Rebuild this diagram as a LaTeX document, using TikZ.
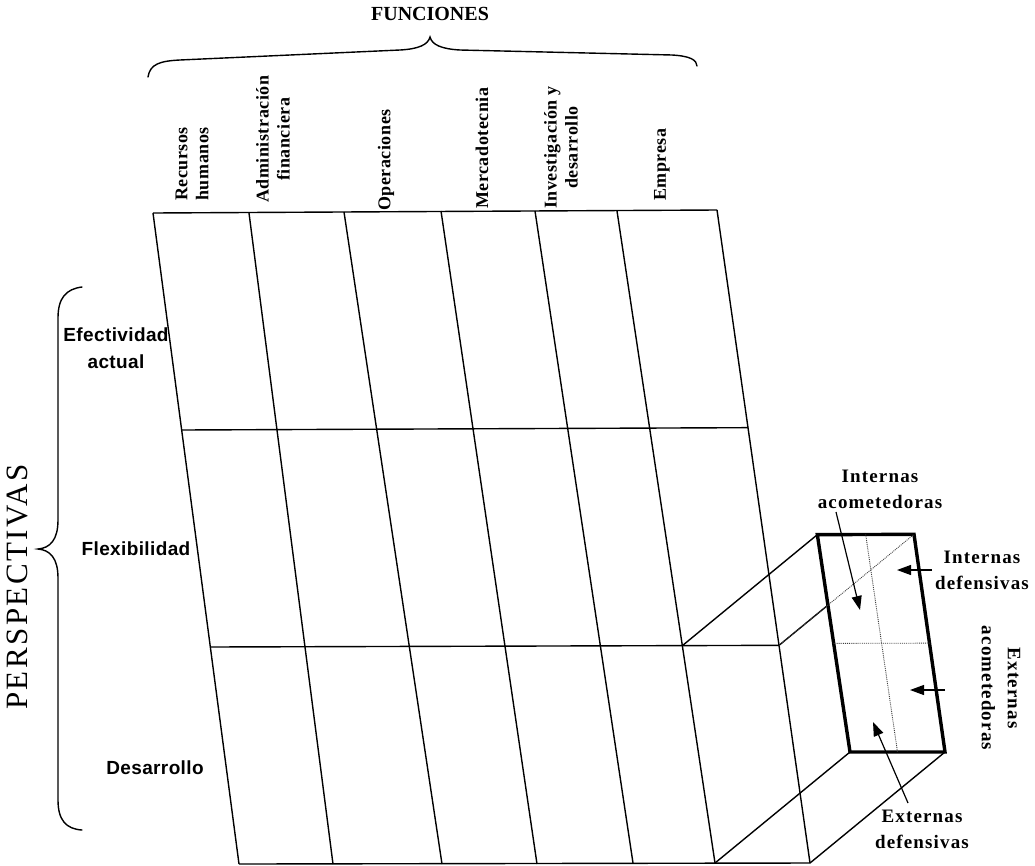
\documentclass[tikz,border=0pt]{standalone}
\usepackage{fontspec}
\setmainfont{Liberation Serif}
\newfontfamily\rowfont{Liberation Sans}[LetterSpace=2]
\newfontfamily\colfont{Liberation Serif}[LetterSpace=3]
\newfontfamily\cubefont{Liberation Serif}[LetterSpace=6]
\newfontfamily\perspfont{Liberation Serif}[LetterSpace=8]
\usetikzlibrary{calc,arrows.meta}

\begin{document}
\begin{tikzpicture}[x=1pt,y=-1pt,
  grid/.style={line width=1.4pt},
  face/.style={line width=3.4pt, line join=miter, fill=white},
  hidden/.style={line width=0.9pt, densely dotted, black!75},
  pointer/.style={line width=1.2pt, -{Triangle[length=14pt,width=10pt]}},
  collabel/.style={rotate=90, anchor=west, inner sep=0pt, align=center,
    font=\colfont\bfseries\fontsize{18}{21}\selectfont},
  rowlabel/.style={inner sep=0pt, align=center,
    font=\rowfont\bfseries\fontsize{19}{27}\selectfont},
  cubelabel/.style={inner sep=0pt, align=center,
    font=\cubefont\bfseries\fontsize{19}{26}\selectfont},
  brace/.style={line width=1.4pt, line cap=round}
]
\useasboundingbox (0,0) rectangle (1035,865);

% column dividers (top and bottom ends)
\coordinate (T0) at (153,213); \coordinate (B0) at (239,864);
\coordinate (T1) at (249,213); \coordinate (B1) at (333,864);
\coordinate (T2) at (344,212); \coordinate (B2) at (442,864);
\coordinate (T3) at (441,211); \coordinate (B3) at (537,864);
\coordinate (T4) at (535,211); \coordinate (B4) at (633,863);
\coordinate (T5) at (617,211); \coordinate (B5) at (715,863);
\coordinate (T6) at (717,210); \coordinate (B6) at (810,863);

\foreach \i in {0,...,6} {\draw[grid] (T\i) -- (B\i);}
\draw[grid] (T0) -- (T6);
\draw[grid] (B0) -- (B6);
\draw[grid] ($(T0)!1/3!(B0)$) coordinate (L1) -- ($(T6)!1/3!(B6)$) coordinate (R1);
\draw[grid] ($(T0)!2/3!(B0)$) coordinate (L2) -- ($(T6)!2/3!(B6)$) coordinate (R2);

% extruded cell: back face corners and front face corners
\coordinate (P1) at ($(T5)!2/3!(B5)$);
\coordinate (P2) at (R2);
\coordinate (F1) at ($(P1)+(135,-111)$);
\coordinate (F2) at ($(P2)+(135,-111)$);
\coordinate (F3) at ($(B6)+(135,-111)$);
\coordinate (F4) at ($(B5)+(135,-111)$);

\draw[grid] (P1) -- (F1);
\draw[grid] (P2) -- (F2);
\draw[grid] (B5) -- (F4);
\draw[grid] (B6) -- (F3);

\draw[face] (F1) -- (F2) -- (F3) -- (F4) -- cycle;
\draw[hidden] (P2) -- (F2);
\draw[hidden] ($(F1)!0.5!(F2)$) -- ($(F4)!0.5!(F3)$);
\draw[hidden] ($(F1)!0.5!(F4)$) -- ($(F2)!0.5!(F3)$);

% header
\node[inner sep=0pt, font=\bfseries\fontsize{20}{24}\selectfont] (fun) at (430,14) {FUNCIONES};
\draw[brace] (148,77) .. controls (150,64) and (160,61) .. (180,60) -- (400,50)
  .. controls (418,49) and (428,45) .. (430,37)
  .. controls (432,45) and (442,49) .. (460,50) -- (672,55)
  .. controls (690,56) and (697,60) .. (697,66);

\node[collabel] (c1) at (192,201) {Recursos\\humanos};
\node[collabel] (c2) at (273,203) {Administración\\financiera};
\node[collabel] (c3) at (386,211) {Operaciones};
\node[collabel] (c4) at (482,209) {Mercadotecnia};
\node[collabel] (c5) at (561,209) {Investigación y\\desarrollo};
\node[collabel] (c6) at (662,201) {Empresa};

% side header
\node[rotate=90, inner sep=0pt, font=\perspfont\fontsize{31}{34}\selectfont] (per) at (17,587) {PERSPECTIVAS};
\draw[brace] (82,287) .. controls (66,289) and (58,298) .. (58,318) -- (58,520)
  .. controls (58,540) and (50,548) .. (38,549)
  .. controls (50,550) and (58,558) .. (58,578) -- (58,800)
  .. controls (58,820) and (66,829) .. (82,830);

\node[rowlabel] (r1) at (116,348) {Efectividad\\actual};
\node[rowlabel] (r2) at (136,549) {Flexibilidad};
\node[rowlabel] (r3) at (155,768) {Desarrollo};

% quadrant labels with pointers
\node[cubelabel] (q1) at (880,489) {Internas\\acometedoras};
\node[cubelabel] (q2) at (982,570) {Internas\\defensivas};
\node[cubelabel, rotate=-90] (q3) at (1001,688) {Externas\\acometedoras};
\node[cubelabel] (q4) at (922,829) {Externas\\defensivas};

\coordinate (a1) at (836,512); \coordinate (h1) at (860,610);
\coordinate (a2) at (932,570); \coordinate (h2) at (897,570);
\coordinate (a3) at (945,690); \coordinate (h3) at (910,690);
\coordinate (a4) at (908,803); \coordinate (h4) at (873,722);
\draw[pointer] (a1) -- (h1);
\draw[pointer] (a2) -- (h2);
\draw[pointer] (a3) -- (h3);
\draw[pointer] (a4) -- (h4);
\end{tikzpicture}
\end{document}
